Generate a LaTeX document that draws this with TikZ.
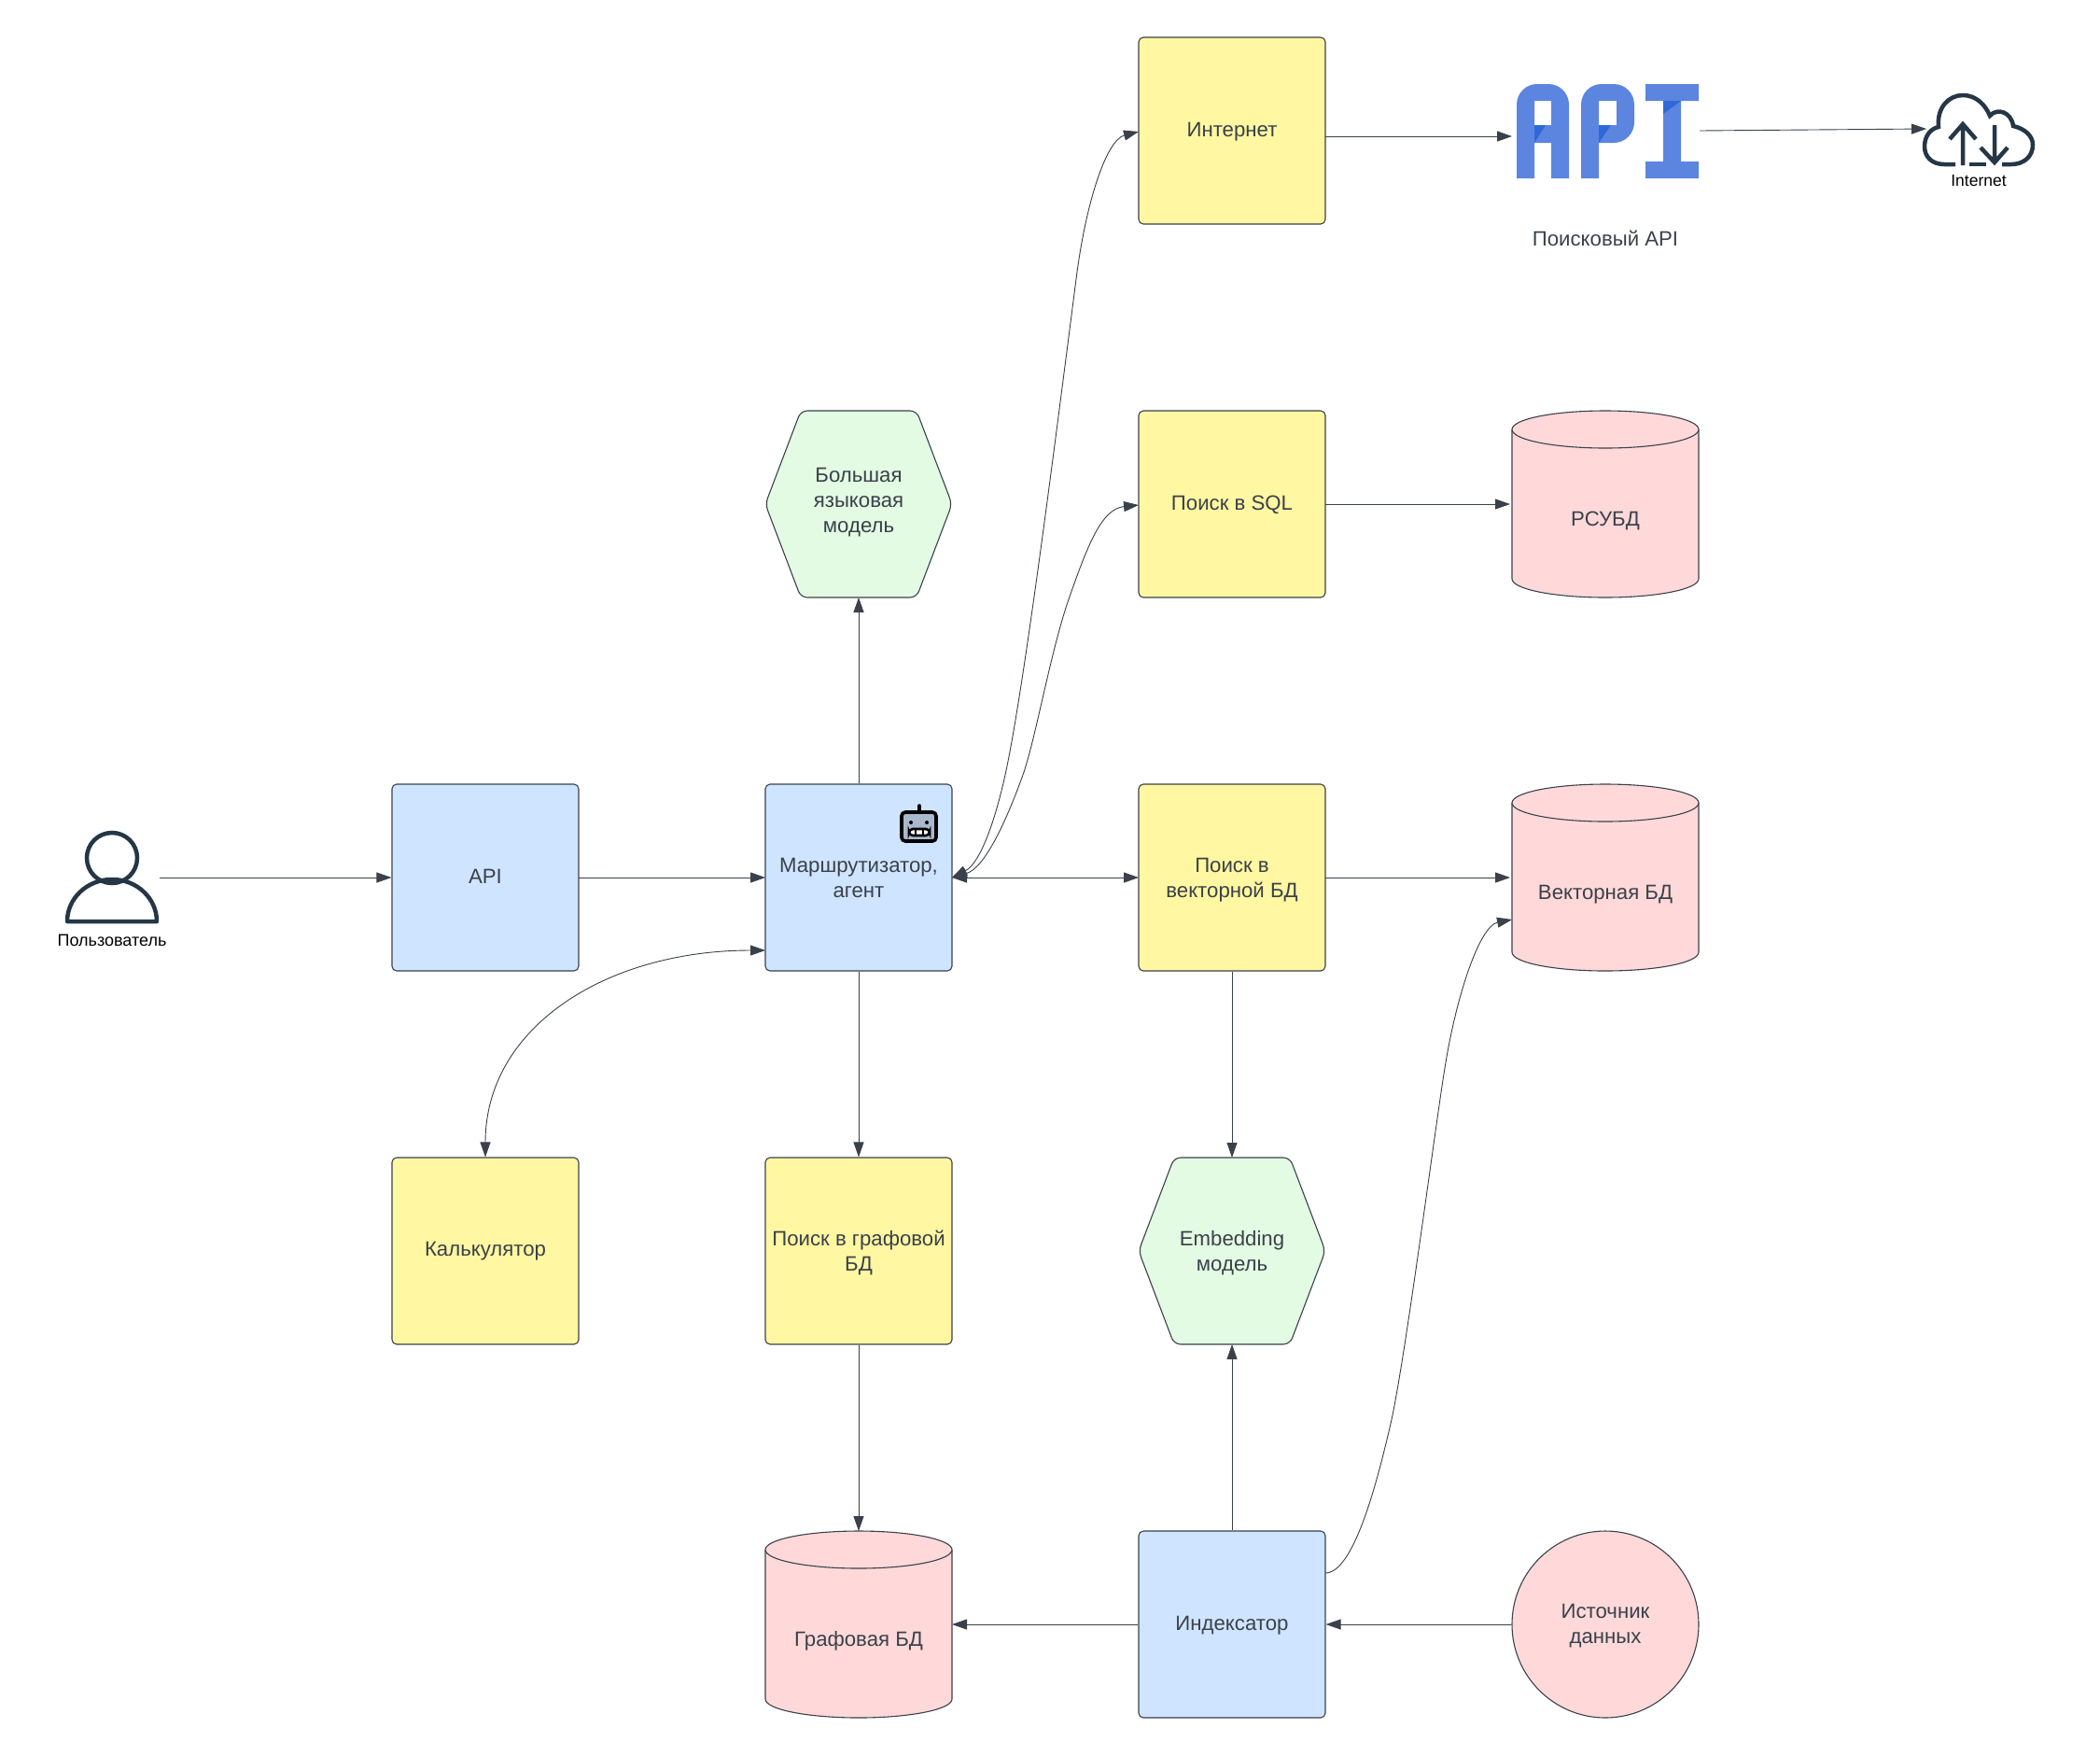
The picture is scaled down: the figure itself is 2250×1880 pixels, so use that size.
\documentclass[tikz,border=0pt]{standalone}
\usepackage{fontspec}
\setmainfont{Liberation Sans}
\usetikzlibrary{arrows.meta}
\definecolor{inkc}{HTML}{3A414A}
\definecolor{bluef}{HTML}{CFE4FF}
\definecolor{yellowf}{HTML}{FFF7A1}
\definecolor{greenf}{HTML}{E3FAE3}
\definecolor{pinkf}{HTML}{FFD9D9}
\definecolor{iconc}{HTML}{253746}
\definecolor{logoc}{HTML}{5C85E0}
\definecolor{foldc}{HTML}{2F68D8}
\definecolor{robotf}{HTML}{A9B8CC}
\tikzset{
  lbl/.style={text=inkc,font=\fontsize{22.2}{27}\selectfont,align=center},
  boxn/.style={draw=inkc,line width=1.1pt,rounded corners=5pt,minimum width=200pt,minimum height=200pt,inner sep=0pt},
  bluebox/.style={boxn,fill=bluef},
  yellowbox/.style={boxn,fill=yellowf},
  hexshape/.style={draw=inkc,line width=1.1pt,fill=greenf,rounded corners=7pt},
  cylshape/.style={draw=inkc,line width=1.1pt,fill=pinkf},
  areanode/.style={minimum width=200pt,minimum height=200pt,inner sep=0pt},
  conn/.style={draw=inkc,line width=0.9pt,-{Triangle[length=16pt,width=11pt]}},
  bconn/.style={draw=inkc,line width=0.9pt,{Triangle[length=16pt,width=11pt]}-{Triangle[length=16pt,width=11pt]}},
  iconline/.style={draw=iconc,line width=4.5pt},
}
% style, name, x, y, text nudge, text
\newcommand{\boxnode}[6]{%
  \node[#1] (#2) at (#3,#4) {};
  \node[lbl] (#2t) at (#3,#4+#5) {#6};}
\newcommand{\hexagonnode}[5]{%
  \draw[hexshape] (#2-100,#3) -- (#2-62,#3-100) -- (#2+62,#3-100) -- (#2+100,#3) -- (#2+62,#3+100) -- (#2-62,#3+100) -- cycle;
  \node[areanode] (#1) at (#2,#3) {};
  \node[lbl] (#1t) at (#2,#3+#4) {#5};}
\newcommand{\cylindernode}[4]{%
  \draw[cylshape] (#2-100,#3-80) arc[start angle=180,end angle=360,x radius=100,y radius=20]
     -- (#2+100,#3+80) arc[start angle=0,end angle=180,x radius=100,y radius=20] -- cycle;
  \draw[cylshape] (#2-100,#3-80) arc[start angle=180,end angle=0,x radius=100,y radius=20];
  \node[areanode] (#1) at (#2,#3) {};
  \node[lbl] (#1t) at (#2,#3+18) {#4};}
\begin{document}
\begin{tikzpicture}[x=1pt,y=-1pt]
\useasboundingbox (0,0) rectangle (2250,1880);
% boxes
\boxnode{bluebox}{api}{520}{940}{-1.5}{API}
\boxnode{bluebox}{router}{920}{940}{0}{Маршрутизатор,\\агент}
\boxnode{bluebox}{indexer}{1320}{1740}{1}{Индексатор}
\boxnode{yellowbox}{inet}{1320}{140}{1}{Интернет}
\boxnode{yellowbox}{sql}{1320}{540}{0.5}{Поиск в SQL}
\boxnode{yellowbox}{vec}{1320}{940}{3}{Поиск в\\векторной БД}
\boxnode{yellowbox}{calc}{520}{1340}{0}{Калькулятор}
\boxnode{yellowbox}{graph}{920}{1340}{2}{Поиск в графовой\\БД}
\hexagonnode{llm}{920}{540}{-2}{Большая\\языковая\\модель}
\hexagonnode{emb}{1320}{1340}{2}{Embedding\\модель}
\cylindernode{rdb}{1720}{540}{РСУБД}
\cylindernode{vdb}{1720}{940}{Векторная БД}
\cylindernode{gdb}{920}{1740}{Графовая БД}
\node[draw=inkc,line width=1.1pt,fill=pinkf,circle,minimum size=200pt,inner sep=0pt] (src) at (1720,1740) {};
\node[lbl] (srct) at (1720,1742) {Источник\\данных};
% robot icon
\draw[black,line width=3.6pt,line cap=round] (985,863) -- (985,869);
\draw[black,line width=3.6pt,fill=robotf,rounded corners=4pt] (966,870) rectangle (1003,901);
\fill[black] (976,881) circle (2pt) (993,881) circle (2pt);
\draw[black,line width=2.6pt,fill=white,rounded corners=4pt] (974,888) rectangle (996,895);
\draw[black,line width=2pt] (981,888) -- (981,895) (989,888) -- (989,895);
% user icon
\node[inner sep=0pt,minimum width=100pt,minimum height=70pt] (user) at (120,945) {};
\draw[iconline] (120,919) circle (27pt);
\draw[iconline,line join=round] (72,987) arc[start angle=180,end angle=360,x radius=48,y radius=45] -- cycle;
\node[font=\fontsize{18}{20}\selectfont,text=black] (userlbl) at (120,1007) {Пользователь};
\coordinate (userE) at (171,940);
% API logo
\node[inner sep=0pt,minimum width=197pt,minimum height=101pt] (logo) at (1722.5,140.5) {};
\fill[logoc,even odd rule] (1625,191) -- (1625,112) arc[start angle=180,end angle=270,radius=22] -- (1659,90) arc[start angle=270,end angle=360,radius=22] -- (1681,191) -- (1662,191) -- (1662,153) -- (1644,153) -- (1644,191) -- cycle
  (1644,108) rectangle (1662,134);
\fill[logoc,even odd rule] (1694,191) -- (1694,112) arc[start angle=180,end angle=270,radius=22] -- (1729,90) arc[start angle=270,end angle=360,radius=22] -- (1751,131) arc[start angle=0,end angle=90,radius=22] -- (1713,153) -- (1713,191) -- cycle
  (1713,108) rectangle (1732,134);
\fill[logoc] (1763,90) -- (1820,90) -- (1820,108) -- (1801,108) -- (1801,173) -- (1820,173) -- (1820,191) -- (1763,191) -- (1763,173) -- (1782,173) -- (1782,108) -- (1763,108) -- cycle;
\fill[foldc] (1644,134) -- (1656,134) -- (1644,153) -- cycle;
\fill[foldc] (1713,134) -- (1726,134) -- (1713,153) -- cycle;
\fill[foldc] (1782,108) -- (1801,108) -- (1782,122) -- cycle;
\node[lbl] (logolbl) at (1720,255) {Поисковый API};
\coordinate (logoW) at (1620,146);
\coordinate (logoE) at (1821,140);
% cloud icon
\draw[iconline] (2095,176) -- (2083,176) .. controls (2070,176) and (2062,168) .. (2062,157) .. controls (2062,146) and (2068,138) .. (2077,136) .. controls (2075,115) and (2088,102) .. (2103,102) .. controls (2117,102) and (2127,112) .. (2132,124) .. controls (2140,115) and (2155,120) .. (2157,135) .. controls (2170,138) and (2178,146) .. (2178,155) .. controls (2178,168) and (2168,176) .. (2155,176) -- (2145,176);
\draw[iconline] (2110,176) -- (2128,176);
\draw[iconline] (2103,177) -- (2103,134) (2089,149) -- (2103,133) -- (2117,149);
\draw[iconline] (2137,134) -- (2137,174) (2122,158) -- (2137,174) -- (2151,158);
\node[font=\fontsize{17.5}{19}\selectfont,text=black] (cloudlbl) at (2120,194) {Internet};
\coordinate (cloudW) at (2064,138);
% named connection points
\coordinate (apiE) at (620,940);
\coordinate (routerW) at (820,940);
\coordinate (routerE) at (1020,940);
\coordinate (routerSW) at (820,1018);
\coordinate (vecW) at (1220,940);
\coordinate (vecE) at (1420,940);
\coordinate (vdbW) at (1618,940);
\coordinate (vdbW2) at (1620,985);
\coordinate (inetW) at (1220,141);
\coordinate (inetE) at (1420,146);
\coordinate (sqlW) at (1220,541);
\coordinate (sqlE) at (1420,540);
\coordinate (rdbW) at (1618,540);
\coordinate (indexNE) at (1420,1685);
% connectors
\draw[conn] (userE) -- (api.west |- userE);
\draw[conn] (apiE) -- (routerW);
\draw[bconn] (routerE) -- (vecW);
\draw[conn] (vecE) -- (vdbW);
\draw[conn] (sqlE) -- (rdbW);
\draw[conn] (inetE) -- (logoW);
\draw[conn] (logoE) -- (cloudW);
\draw[conn] (router.north) -- (920,640);
\draw[conn] (router.south) -- (graph.north);
\draw[conn] (graph.south) -- (920,1640);
\draw[conn] (vec.south) -- (1320,1240);
\draw[conn] (indexer.north) -- (1320,1440);
\draw[conn] (indexer.west) -- (1020,1740);
\draw[conn] (src.west) -- (indexer.east);
\draw[bconn] (routerE) .. controls (1050,925) and (1066,880) .. (1077,830) .. controls (1097,739) and (1131,469) .. (1153,299) .. controls (1163,219) and (1185,150) .. (inetW);
\draw[bconn] (routerE) .. controls (1055,930) and (1078,880) .. (1096,830) .. controls (1110,790) and (1125,700) .. (1145,642) .. controls (1165,585) and (1180,545) .. (sqlW);
\draw[bconn] (routerSW) .. controls (650,1018) and (520,1100) .. (calc.north);
\draw[conn] (indexNE) .. controls (1450,1685) and (1475,1590) .. (1490,1525) .. controls (1505,1460) and (1538,1205) .. (1548,1144) .. controls (1560,1068) and (1585,992) .. (vdbW2);
\end{tikzpicture}
\end{document}
